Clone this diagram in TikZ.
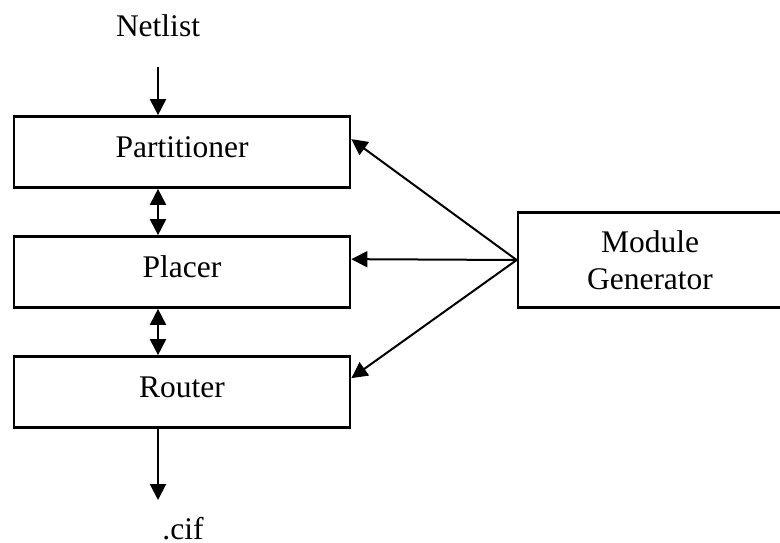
\documentclass[tikz,border=0pt]{standalone}
\usepackage{fontspec}
\setmainfont{Liberation Serif}
\usetikzlibrary{arrows.meta,calc}

\tikzset{
  stage/.style={draw, line width=2.7pt, rectangle, inner sep=0pt,
    minimum width=336pt, minimum height=71pt,
    text height=20pt, text depth=10pt},
  genbox/.style={draw, line width=2.7pt, rectangle, inner sep=0pt,
    minimum width=264pt, minimum height=95.5pt},
  lbl/.style={anchor=base, inner sep=0pt},
  tip/.style={Triangle[length=16pt,width=16pt]},
  flow/.style={line width=2pt, -{Triangle[length=16pt,width=16pt]}},
  twoway/.style={line width=2pt, {Triangle[length=16pt,width=16pt]}-{Triangle[length=16pt,width=16pt]}}
}

\begin{document}
\begin{tikzpicture}[x=1pt, y=-1pt, font=\fontsize{31.5}{36.5}\selectfont]
  \useasboundingbox (0,0) rectangle (780,542);
  \clip (0,0) rectangle (780,542);

  % tool chain stages
  \node[stage] (part)  at (182,152) {Partitioner};
  \node[stage] (place) at (182,272) {Placer};
  \node[stage] (route) at (182,392) {Router};

  % module generator (runs off the right edge)
  \node[genbox] (mg) at (650,260) {};
  \node[lbl, align=center] (mgtext) at (650,289.3) {Module\\Generator};

  % input and output labels
  \node[lbl] (netlist) at (158,36) {Netlist};
  \node[lbl] (cif) at (183,539) {.cif};
  \coordinate (netin) at (158,67);
  \coordinate (cifout) at (158,500);

  % main flow
  \draw[flow] (netin) -- (netin |- part.north);
  \draw[twoway] (part.south -| netin) -- (place.north -| netin);
  \draw[twoway] (place.south -| netin) -- (route.north -| netin);
  \draw[flow] (route.south -| netin) -- (cifout);

  % module generator feeds every stage
  \coordinate (tpart)  at ($(part.north east)+(0,24)$);
  \coordinate (tplace) at ($(place.north east)+(0,24)$);
  \coordinate (troute) at ($(route.north east)+(0,23)$);
  \draw[flow] (mg.west) -- (tpart);
  \draw[flow] (mg.west) -- (tplace);
  \draw[flow] (mg.west) -- (troute);
\end{tikzpicture}
\end{document}
